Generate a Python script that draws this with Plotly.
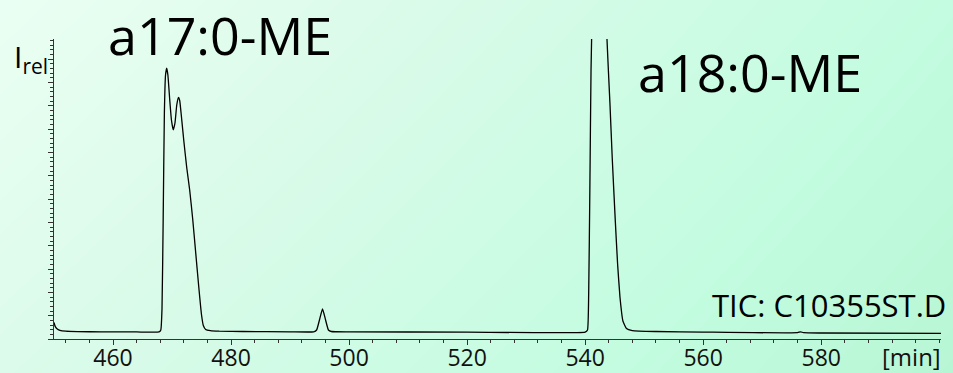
import plotly.graph_objects as go

# ---- data ----
time_min = [450.0, 450.2, 450.5, 451.0, 452.0, 454.0, 458.0, 464.0, 467.8,
            468.1, 468.3, 468.5, 468.7, 468.9, 469.1, 469.3, 469.6, 469.9,
            470.2, 470.5, 470.8, 471.1, 471.3, 471.6, 472.0, 472.5, 473.0,
            473.5, 474.0, 474.5, 475.0, 475.3, 475.7, 476.5, 478.0, 482.0,
            490.0, 494.0, 494.5, 495.0, 495.5, 496.0, 496.5, 497.0, 500.0,
            520.0, 540.0, 540.4, 540.6, 540.8, 541.0, 541.2, 541.6, 542.5,
            543.3, 543.7, 544.2, 544.6, 545.1, 545.5, 545.9, 546.4, 547.0,
            548.0, 552.0, 560.0, 576.0, 576.5, 577.0, 580.0, 600.3]
intensity = [5.5, 4.2, 3.4, 2.9, 2.6, 2.45, 2.4, 2.35, 2.35,
             3.0, 10.0, 40.0, 75.0, 88.0, 90.3, 88.0, 80.0, 73.0,
             69.7, 72.0, 78.0, 80.5, 79.5, 74.0, 66.0, 57.0, 49.5,
             40.0, 29.0, 18.0, 8.0, 4.5, 3.2, 2.8, 2.6, 2.5,
             2.4, 2.4, 3.0, 6.5, 10.0, 6.5, 3.0, 2.5, 2.4,
             2.3, 2.3, 3.0, 15.0, 50.0, 90.0, 110.0, 140.0, 150.0,
             135.0, 100.0, 78.7, 60.0, 39.7, 25.0, 14.0, 6.0, 3.5,
             2.8, 2.5, 2.3, 2.1, 2.4, 2.1, 2.0, 1.9]

x_tickvals = [460, 480, 500, 520, 540, 560, 580]
x_ticktext = ["460", "480", "500", "520", "540", "560", "580"]
x_unit = "[min]"
y_label = "I<sub>rel</sub>"
peak_labels = ["a17:0-ME", "a18:0-ME"]
file_label = "TIC: C10355ST.D"

W, H = 953, 373
FONT = "Open Sans"

fig = go.Figure()

# background gradient (full-figure heatmap on a hidden subplot)
fig.add_trace(go.Heatmap(
    x=[0, 1], y=[0, 1], z=[[0.3, 1.0], [0.0, 0.75]],
    zsmooth="best", showscale=False, hoverinfo="skip",
    colorscale=[[0.0, "#eafff3"], [0.3, "#dcfbea"], [0.75, "#c3fce0"], [1.0, "#b7f6d4"]],
    zmin=0, zmax=1, xaxis="x", yaxis="y"))

fig.add_trace(go.Scatter(
    x=time_min, y=intensity, mode="lines",
    line=dict(color="black", width=1.3, shape="spline", smoothing=0.4),
    xaxis="x2", yaxis="y2", showlegend=False, hoverinfo="skip"))

px_x = lambda p: p / W
px_y = lambda p: 1 - p / H

fig.update_layout(
    width=W, height=H,
    margin=dict(l=0, r=0, t=0, b=0, autoexpand=False),
    paper_bgcolor="#e4fdf0",
    plot_bgcolor="rgba(0,0,0,0)",
    showlegend=False,
    font=dict(family=FONT, color="black"),
    xaxis=dict(domain=[0, 1], range=[0, 1], visible=False, fixedrange=True, automargin=False),
    yaxis=dict(domain=[0, 1], range=[0, 1], visible=False, fixedrange=True, automargin=False),
    xaxis2=dict(domain=[px_x(54), px_x(941)], range=[450, 600.3], anchor="y2",
                automargin=False,
                showline=True, linecolor="#333", linewidth=1, zeroline=False,
                showgrid=False, ticks="outside", ticklen=5, tickwidth=1, tickcolor="#333",
                tickmode="array", tickvals=x_tickvals, ticktext=x_ticktext,
                ticklabelstandoff=-7,
                tickfont=dict(family=FONT, size=23, color="#111"),
                minor=dict(tickmode="linear", tick0=460, dtick=4, ticks="outside",
                           ticklen=3, tickwidth=1, tickcolor="#333", showgrid=False)),
    yaxis2=dict(domain=[px_y(339), px_y(39)], range=[0, 100], anchor="x2",
                automargin=False,
                showline=True, linecolor="#333", linewidth=1, zeroline=False,
                showgrid=False, ticks="outside", ticklen=5, tickwidth=1, tickcolor="#333",
                tickmode="linear", tick0=0, dtick=100 / 12.86, showticklabels=False,
                minor=dict(tickmode="linear", tick0=0, dtick=100 / 12.86 / 5,
                           ticks="outside", ticklen=3, tickwidth=1, tickcolor="#333",
                           showgrid=False)),
)

ann = [
    dict(text=peak_labels[0], x=px_x(106), y=px_y(35), size=52),
    dict(text=peak_labels[1], x=px_x(636), y=px_y(71), size=52),
    dict(text=file_label, x=px_x(710), y=px_y(305), size=31),
    dict(text=y_label, x=px_x(12), y=px_y(58), size=30),
]
for a in ann:
    fig.add_annotation(text=a["text"], x=a["x"], y=a["y"], xref="paper", yref="paper",
                       xanchor="left", yanchor="middle", showarrow=False,
                       font=dict(family=FONT, size=a["size"], color="black"))

fig.add_annotation(text=x_unit, x=px_x(943), y=px_y(356), xref="paper", yref="paper",
                   xanchor="right", yanchor="middle", showarrow=False,
                   font=dict(family=FONT, size=24, color="#111"))

fig.write_html("out.html")
